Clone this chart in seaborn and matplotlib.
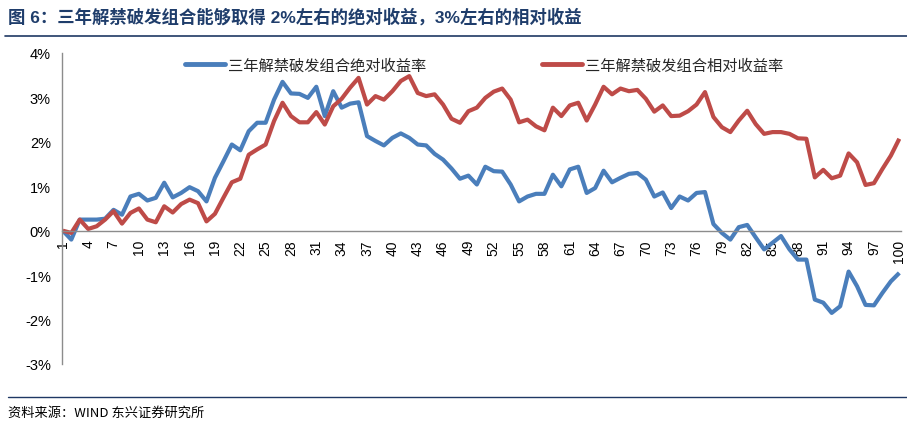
import matplotlib
matplotlib.use("Agg")
import matplotlib.pyplot as plt
import seaborn as sns
import pandas as pd
import numpy as np
from matplotlib.ticker import FixedLocator, FuncFormatter
from matplotlib.lines import Line2D

periods = list(range(1, 101))

absolute_return = [
    0, -0.2, 0.25, 0.25, 0.25, 0.27, 0.47, 0.36, 0.77, 0.83,
    0.68, 0.74, 1.08, 0.75, 0.85, 0.98, 0.89, 0.66, 1.19, 1.56,
    1.94, 1.81, 2.24, 2.43, 2.43, 2.95, 3.35, 3.09, 3.08, 2.99,
    3.24, 2.58, 3.14, 2.77, 2.86, 2.89, 2.13, 2.02, 1.92, 2.09,
    2.19, 2.09, 1.94, 1.92, 1.73, 1.6, 1.4, 1.17, 1.24, 1.04,
    1.44, 1.34, 1.33, 1.04, 0.66, 0.77, 0.83, 0.83, 1.26, 1.0,
    1.38, 1.44, 0.85, 0.96, 1.35, 1.09, 1.19, 1.28, 1.3, 1.15,
    0.77, 0.86, 0.51, 0.77, 0.68, 0.85, 0.87, 0.15, -0.05, -0.2,
    0.08, 0.13, -0.15, -0.42, -0.27, -0.12, -0.42, -0.65, -0.65, -1.55,
    -1.62, -1.85, -1.7, -0.92, -1.25, -1.67, -1.68, -1.4, -1.14, -0.95,
]

relative_return = [
    0, -0.05, 0.25, 0.04, 0.1, 0.25, 0.44, 0.16, 0.4, 0.5,
    0.25, 0.19, 0.55, 0.41, 0.6, 0.7, 0.62, 0.21, 0.38, 0.74,
    1.09, 1.17, 1.71, 1.83, 1.94, 2.47, 2.88, 2.58, 2.44, 2.44,
    2.67, 2.39, 2.8, 2.97, 3.22, 3.44, 2.84, 3.03, 2.95, 3.14,
    3.37, 3.48, 3.1, 3.03, 3.07, 2.84, 2.52, 2.43, 2.69, 2.77,
    2.99, 3.13, 3.2, 2.95, 2.44, 2.5, 2.35, 2.26, 2.77, 2.58,
    2.82, 2.88, 2.48, 2.84, 3.24, 3.07, 3.2, 3.14, 3.17, 2.97,
    2.68, 2.82, 2.58, 2.59, 2.69, 2.84, 3.12, 2.56, 2.33, 2.22,
    2.48, 2.7, 2.4, 2.18, 2.22, 2.22, 2.18, 2.08, 2.07, 1.2,
    1.37, 1.18, 1.24, 1.74, 1.54, 1.03, 1.07, 1.39, 1.69, 2.07,
]

series_names = ["三年解禁破发组合绝对收益率", "三年解禁破发组合相对收益率"]
series_colors = ["#4A7EBB", "#BE4B48"]
y_ticks = [-3, -2, -1, 0, 1, 2, 3, 4]
x_tick_labels = list(range(1, 101, 3))

title_text = "图 6：三年解禁破发组合能够取得 2%左右的绝对收益，3%左右的相对收益"
source_text = "资料来源：WIND 东兴证券研究所"

sns.set_style("white")
plt.rcParams["font.family"] = ["Liberation Sans", "Noto Sans CJK SC", "DejaVu Sans"]

df = pd.DataFrame({
    "period": periods * 2,
    "value": absolute_return + relative_return,
    "series": [series_names[0]] * len(periods) + [series_names[1]] * len(periods),
})

fig = plt.figure(figsize=(9.07, 4.27), dpi=100)
ax = fig.add_axes([62 / 907, 1 - 365 / 427, 839 / 907, 311 / 427])

sns.lineplot(data=df, x="period", y="value", hue="series",
             palette=dict(zip(series_names, series_colors)),
             linewidth=3.0, ax=ax, legend=False)
for ln in ax.get_lines():
    ln.set_solid_joinstyle("round")
    ln.set_solid_capstyle("butt")

ax.set_xlim(0.9, 100.2)
ax.set_ylim(-3, 4)
ax.set_xlabel("")
ax.set_ylabel("")

spine_color = "#8C8C8C"
for s in ["top", "right"]:
    ax.spines[s].set_visible(False)
ax.spines["left"].set_color(spine_color)
ax.spines["bottom"].set_color(spine_color)
ax.spines["left"].set_linewidth(1.0)
ax.spines["bottom"].set_linewidth(1.0)
ax.spines["bottom"].set_position(("data", 0))

ax.yaxis.set_major_locator(FixedLocator(y_ticks))
ax.yaxis.set_major_formatter(FuncFormatter(lambda v, p: f"{int(round(v))}%"))
ax.tick_params(axis="y", direction="out", length=5, width=1, color=spine_color,
               labelsize=10.5, pad=3, labelcolor="black")

ax.xaxis.set_major_locator(FixedLocator(x_tick_labels))
ax.xaxis.set_minor_locator(FixedLocator(periods))
ax.xaxis.set_major_formatter(FuncFormatter(lambda v, p: f"{int(round(v))}"))
ax.tick_params(axis="x", which="both", direction="out", length=4, width=1,
               color=spine_color, labelsize=10, pad=2, labelcolor="black")
for lbl in ax.get_xticklabels():
    lbl.set_rotation(90)

handles = [Line2D([0], [0], color=c, lw=3.5) for c in series_colors]
ax.legend(handles, series_names, loc="center", bbox_to_anchor=(0.503, 0.961),
          ncol=2, frameon=False, handlelength=2.6, handletextpad=0.2,
          columnspacing=7.6,
          prop={"family": ["Noto Sans CJK SC", "DejaVu Sans"], "size": 11})

fig.text(8 / 907, 1 - 17 / 427, title_text, ha="left", va="center",
         fontsize=12.5, fontweight="bold", color="#1F3D6B",
         family=["Liberation Sans", "Noto Sans CJK SC", "DejaVu Sans"])
fig.add_artist(Line2D([5 / 907, 1.0], [1 - 37 / 427, 1 - 37 / 427],
                      color="#1F3864", lw=1.2, transform=fig.transFigure))
fig.add_artist(Line2D([8 / 907, 1.0], [1 - 398 / 427, 1 - 398 / 427],
                      color="#1F3864", lw=1.0, transform=fig.transFigure))
fig.text(8 / 907, 1 - 413 / 427, source_text, ha="left", va="center",
         fontsize=9.5, style="italic", color="black",
         family=["Noto Sans CJK SC", "DejaVu Sans"])

fig.savefig("out.png", dpi=100)
